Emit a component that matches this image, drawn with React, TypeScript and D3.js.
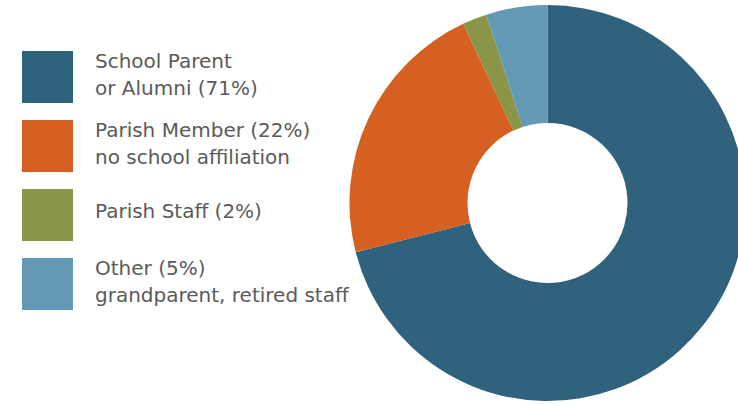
import React from "react";
import * as d3 from "d3";

const categories = ["School Parent", "Parish Member", "Parish Staff", "Other"];
const values = [71, 22, 2, 5];
const labelLine1 = ["School Parent", "Parish Member (22%)", "Parish Staff (2%)", "Other (5%)"];
const labelLine2 = ["or Alumni (71%)", "no school affiliation", "", "grandparent, retired staff"];
const colors = ["#31627d", "#d65f22", "#8a9548", "#6299b4"];

export default function App() {
  const W = 738, H = 404;
  const cx = 547.5, cy = 203, rOuter = 198, rInner = 80;
  const pie = d3.pie<number>().sort(null).value((d) => d)(values);
  const arc = d3.arc<d3.PieArcDatum<number>>().innerRadius(rInner).outerRadius(rOuter);
  const legendY = d3.scaleBand<number>().domain(d3.range(categories.length)).range([51, 310]).paddingInner(17 / 69).paddingOuter(0);
  const font = "'DejaVu Sans', sans-serif";
  return (
    <svg width={W} height={H} style={{ position: "absolute", left: 0, top: 0, background: "#fff" }}>
      <g transform={`translate(${cx},${cy})`}>
        {pie.map((p, i) => (
          <path key={i} d={arc(p) || ""} fill={colors[i]} />
        ))}
      </g>
      {categories.map((c, i) => {
        const y = legendY(i)!;
        const h = legendY.bandwidth();
        const two = labelLine2[i] !== "";
        return (
          <g key={c}>
            <rect x={22} y={y} width={51} height={h} fill={colors[i]} />
            <text x={95} y={two ? y + 17 : y + 29} fontFamily={font} fontSize={20} fill="#5a5a5a">
              {labelLine1[i]}
            </text>
            {two && (
              <text x={95} y={y + 44} fontFamily={font} fontSize={20} fill="#5a5a5a">
                {labelLine2[i]}
              </text>
            )}
          </g>
        );
      })}
    </svg>
  );
}
